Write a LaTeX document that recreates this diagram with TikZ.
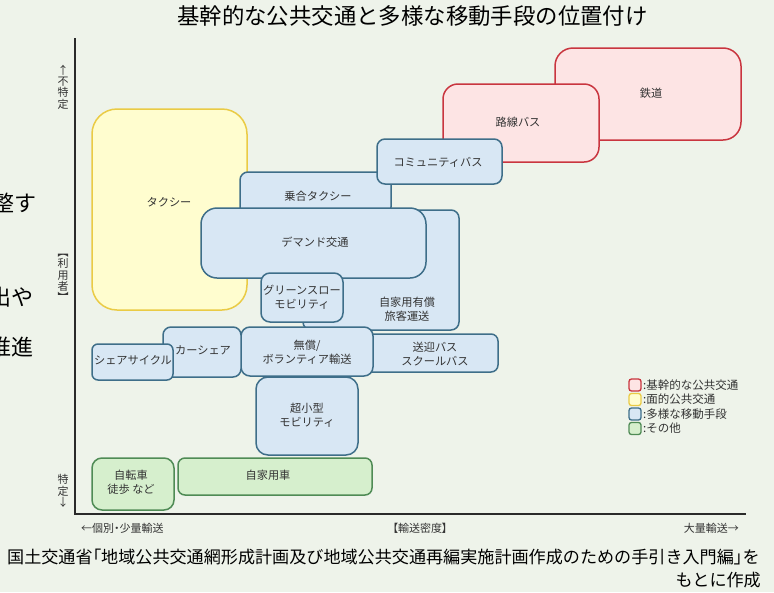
\documentclass[tikz,border=0pt]{standalone}
\usepackage{fontspec}
\setmainfont{Noto Sans CJK JP}
\newfontfamily\paltfont[RawFeature=+palt]{Noto Sans CJK JP}
\definecolor{bg}{HTML}{EEF3EA}
\definecolor{redfill}{HTML}{FDE4E4}
\definecolor{redline}{HTML}{C9353F}
\definecolor{yelfill}{HTML}{FFFDCF}
\definecolor{yelline}{HTML}{EACB45}
\definecolor{bluefill}{HTML}{D8E7F4}
\definecolor{blueline}{HTML}{3E6E89}
\definecolor{grnfill}{HTML}{D6EFCD}
\definecolor{grnline}{HTML}{4F8B55}
\definecolor{txt}{HTML}{333333}
\definecolor{axiscol}{HTML}{2A2A2A}
\tikzset{
  box/.style={draw, line width=1.5pt, inner sep=0pt, outer sep=0pt},
  redbox/.style={box, draw=redline, fill=redfill},
  yelbox/.style={box, draw=yelline, fill=yelfill},
  bluebox/.style={box, draw=blueline, fill=bluefill},
  grnbox/.style={box, draw=grnline, fill=grnfill},
  lbl/.style={text=txt, font=\fontsize{11.2}{14}\selectfont, align=center, inner sep=0pt},
  axlbl/.style={text=txt, font=\fontsize{11}{11.4}\selectfont, align=center, inner sep=0pt},
  leglbl/.style={text=txt, font=\fontsize{11.5}{13}\selectfont, anchor=west, inner sep=0pt},
  legbox/.style={line width=1.3pt, rounded corners=2.5pt, minimum size=12pt},
  sidetxt/.style={text=black, font=\fontsize{22}{26}\selectfont, anchor=east, inner sep=0pt},
  foottxt/.style={text=black, font=\fontsize{17.1}{22}\selectfont, inner sep=0pt},
  axisline/.style={draw=axiscol, line width=1.4pt}
}
\begin{document}
\begin{tikzpicture}[x=1pt,y=-1pt]
\useasboundingbox (0,0) rectangle (774,592);
\fill[bg] (0,0) rectangle (774,592);
\clip (0,0) rectangle (774,592);

% title
\node[text=black, font=\fontsize{22.4}{26}\selectfont, inner sep=0pt] (title) at (412.5,16) {基幹的な公共交通と多様な移動手段の位置付け};

% partial side text (cut at the left edge, as in the reference)
\node[sidetxt] (side1) at (37,203) {整す};
\node[sidetxt] (side2) at (34,297) {出や};
\node[sidetxt] (side3) at (34,347) {推進};

% axes
\coordinate (ytop) at (75,38);
\coordinate (orig) at (75,514);
\coordinate (xend) at (746,514);
\draw[axisline] (ytop) -- (orig) -- (xend);

% boxes
\node[redbox, rounded corners=18pt, minimum width=186pt, minimum height=92pt] (tetsudo) at (648,94) {};
\node[redbox, rounded corners=15pt, minimum width=156pt, minimum height=78pt] (rosen) at (521,123) {};
\node[yelbox, rounded corners=25pt, minimum width=155pt, minimum height=201pt] (taxi) at (169.5,209.5) {};
\node[bluebox, rounded corners=8pt, minimum width=151pt, minimum height=43pt] (noriai) at (315.5,193.5) {};
\node[bluebox, rounded corners=8pt, minimum width=125pt, minimum height=45pt] (community) at (439.5,161.5) {};
\node[bluebox, rounded corners=8pt, minimum width=156pt, minimum height=120pt] (yushou) at (381,270) {};
\node[bluebox, rounded corners=16pt, minimum width=225pt, minimum height=70pt] (demand) at (313.5,243) {};
\node[bluebox, rounded corners=9pt, minimum width=82pt, minimum height=49pt] (greenslow) at (302,297.5) {};
\node[bluebox, rounded corners=7pt, minimum width=138pt, minimum height=38pt] (sougei) at (429,353) {};
\node[bluebox, rounded corners=9pt, minimum width=132pt, minimum height=49pt] (musho) at (307,351.5) {};
\node[bluebox, rounded corners=12pt, minimum width=102pt, minimum height=78pt] (chokogata) at (307,416) {};
\node[bluebox, rounded corners=8pt, minimum width=78pt, minimum height=50pt] (carshare) at (202,352) {};
\node[bluebox, rounded corners=6pt, minimum width=81pt, minimum height=36pt] (sharecycle) at (132.5,362) {};
\node[grnbox, rounded corners=10pt, minimum width=82pt, minimum height=52pt] (jitensha) at (133,484) {};
\node[grnbox, rounded corners=7pt, minimum width=194pt, minimum height=37pt] (jikayousha) at (275,476.5) {};

% box labels
\node[lbl] (tetsudoL) at (651,93) {鉄道};
\node[lbl] (rosenL) at (518,122) {路線バス};
\node[lbl] (communityL) at (438,162) {コミュニティバス};
\node[lbl] (taxiL) at (169,202) {タクシー};
\node[lbl] (noriaiL) at (318,196) {乗合タクシー};
\node[lbl] (demandL) at (315,242) {デマンド交通};
\node[lbl] (greenslowL) at (302,297) {グリーンスロー\\モビリティ};
\node[lbl] (yushouL) at (407,309) {自家用有償\\旅客運送};
\node[lbl] (mushoL) at (307,352) {無償/\\ボランティア輸送};
\node[lbl] (sougeiL) at (435,354) {送迎バス\\スクールバス};
\node[lbl] (chokogataL) at (307,415) {超小型\\モビリティ};
\node[lbl] (carshareL) at (203,350) {カーシェア};
\node[lbl] (sharecycleL) at (133,360) {シェアサイクル};
\node[lbl] (jitenshaL) at (131,482) {自転車\\徒歩 など};
\node[lbl] (jikayoushaL) at (268,475) {自家用車};

% axis labels
\node[axlbl] (yl1) at (63,87) {↑\\不\\特\\定};
\node[axlbl] (yl2) at (63,278) {︻\\利\\用\\者\\︼};
\node[axlbl] (yl3) at (63,491) {特\\定\\↓};
\node[axlbl, anchor=west] (xl1) at (81,528) {←個別{\paltfont ・}少量輸送};
\node[axlbl] (xl2) at (420,528) {{\paltfont 【}輸送密度{\paltfont 】}};
\node[axlbl, anchor=east] (xl3) at (739,528) {大量輸送→};

% legend
\node[legbox, draw=redline, fill=redfill] (lg1) at (635,385) {};
\node[legbox, draw=yelline, fill=yelfill] (lg2) at (635,399.5) {};
\node[legbox, draw=blueline, fill=bluefill] (lg3) at (635,414) {};
\node[legbox, draw=grnline, fill=grnfill] (lg4) at (635,428.5) {};
\node[leglbl] (lt1) at (643,385) {:基幹的な公共交通};
\node[leglbl] (lt2) at (643,399.5) {:面的公共交通};
\node[leglbl] (lt3) at (643,414) {:多様な移動手段};
\node[leglbl] (lt4) at (643,428.5) {:その他};

% footer
\node[foottxt, anchor=west] (foot1) at (7,557) {国土交通省{\paltfont 「}地域公共交通網形成計画及び地域公共交通再編実施計画作成のための手引き入門編{\paltfont 」}を};
\node[foottxt, anchor=east] (foot2) at (761,580) {もとに作成};
\end{tikzpicture}
\end{document}
